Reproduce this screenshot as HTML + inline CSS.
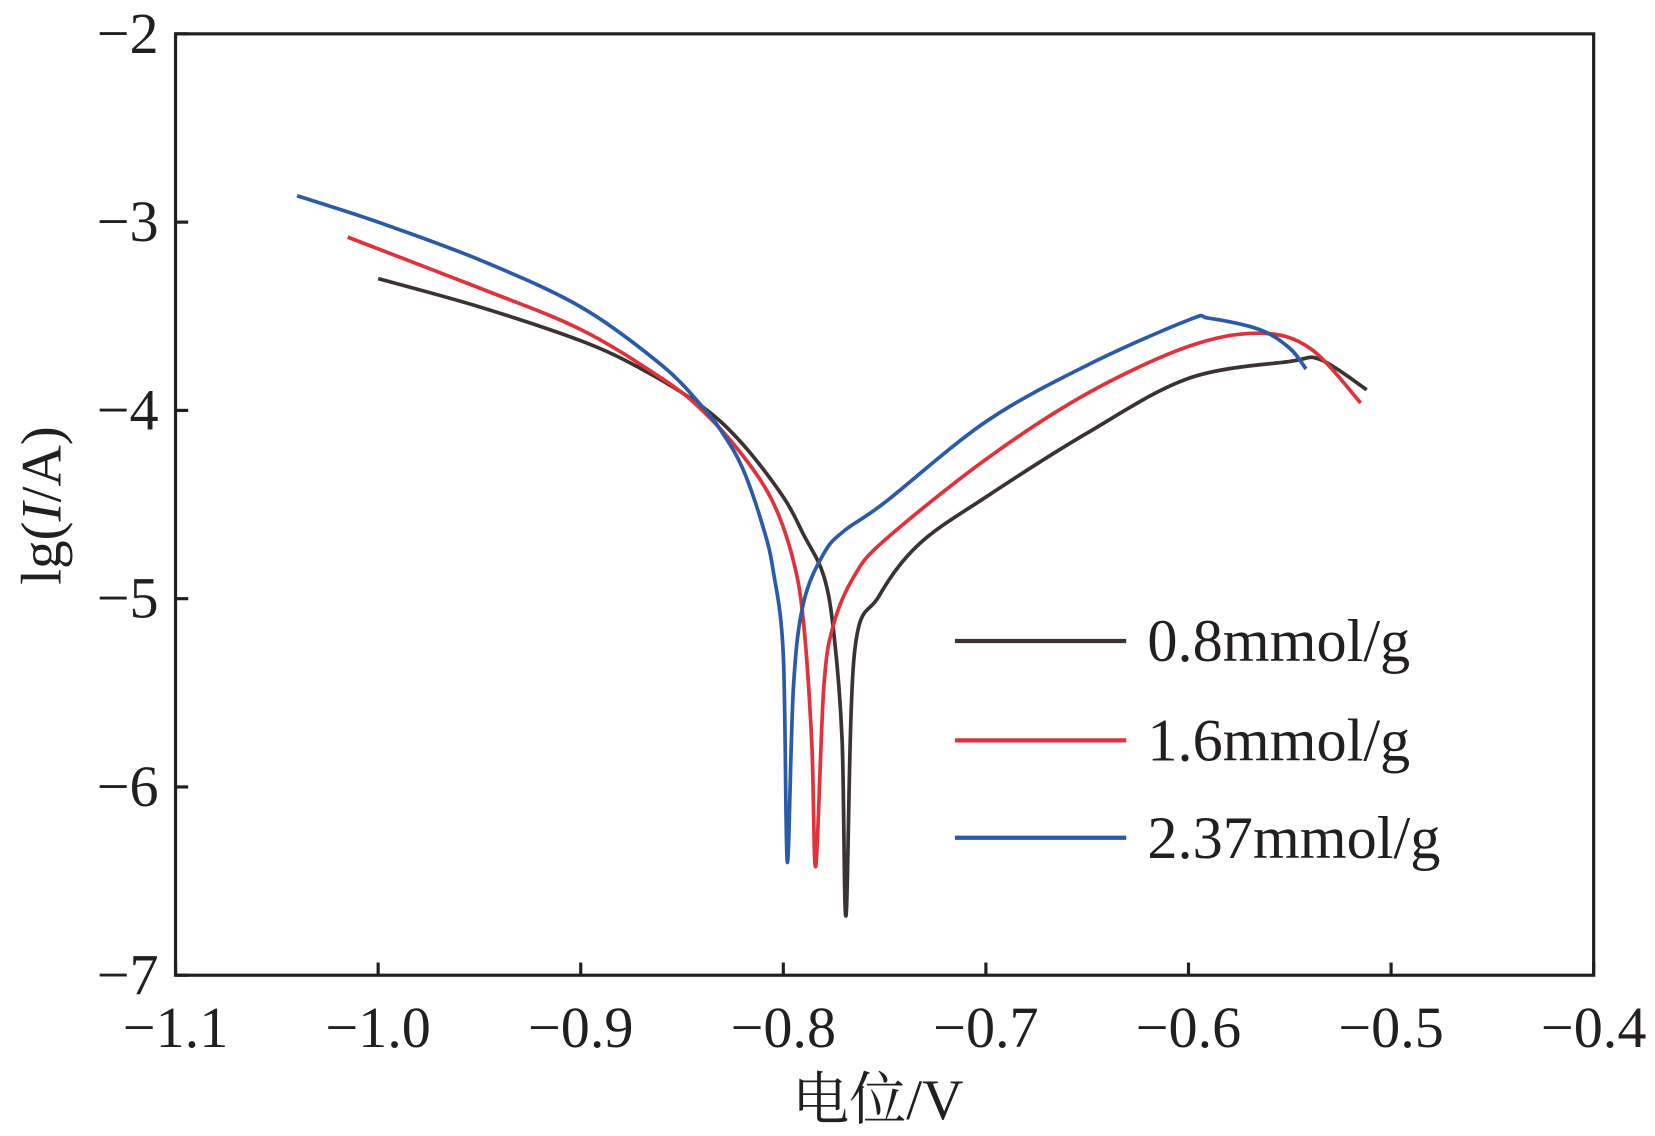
<!DOCTYPE html>
<html><head><meta charset="utf-8"><style>
html,body{margin:0;padding:0;background:#fff;}
svg{display:block;}
text{font-family:"Liberation Serif","Noto Serif CJK SC",serif;fill:#231f20;}
</style></head><body>
<svg id="chart" width="1655" height="1136" viewBox="0 0 1565 1074" preserveAspectRatio="none" xmlns="http://www.w3.org/2000/svg">
<g id="axes"></g>
<g id="series"></g>
<g id="legend"></g>
</svg>
<script>
const xTicks = [-1.1, -1.0, -0.9, -0.8, -0.7, -0.6, -0.5, -0.4];
const xTickLabels = ["\u22121.1","\u22121.0","\u22120.9","\u22120.8","\u22120.7","\u22120.6","\u22120.5","\u22120.4"];
const yTicks = [-2, -3, -4, -5, -6, -7];
const yTickLabels = ["\u22122","\u22123","\u22124","\u22125","\u22126","\u22127"];
const seriesNames = ["0.8mmol/g","1.6mmol/g","2.37mmol/g"];
const seriesColors = ["#3a3331","#e0323a","#2a5aa8"];
const blackX = [-1.0,-0.95,-0.9,-0.87,-0.84,-0.82,-0.8,-0.79,-0.78,-0.775,-0.771,-0.769,-0.765,-0.753,-0.733,-0.7,-0.65,-0.6,-0.55,-0.535,-0.512];
const blackY = [-3.30,-3.45,-3.63,-3.78,-3.98,-4.18,-4.46,-4.66,-4.88,-5.19,-5.75,-6.68,-5.30,-4.99,-4.71,-4.46,-4.12,-3.83,-3.74,-3.73,-3.89];
const redX = [-1.015,-0.95,-0.9,-0.86,-0.84,-0.82,-0.805,-0.795,-0.79,-0.786,-0.784,-0.78,-0.775,-0.765,-0.75,-0.7,-0.65,-0.6,-0.565,-0.54,-0.515];
const redY = [-3.08,-3.35,-3.57,-3.83,-4.0,-4.24,-4.49,-4.80,-5.13,-5.75,-6.42,-5.47,-5.13,-4.88,-4.69,-4.26,-3.91,-3.66,-3.59,-3.67,-3.96];
const blueX = [-1.04,-1.0,-0.95,-0.9,-0.86,-0.84,-0.83,-0.82,-0.81,-0.805,-0.8,-0.798,-0.795,-0.79,-0.78,-0.77,-0.75,-0.7,-0.65,-0.6,-0.59,-0.565,-0.55,-0.542];
const blueY = [-2.86,-3.0,-3.20,-3.45,-3.76,-3.98,-4.12,-4.31,-4.62,-4.85,-5.30,-6.40,-5.47,-5.02,-4.76,-4.64,-4.49,-4.06,-3.76,-3.52,-3.51,-3.57,-3.67,-3.78];

const NS="http://www.w3.org/2000/svg";
const L=166,R=1507,T=32,B=922;
const xS=v=>L+(v+1.1)/0.7*(R-L);
const yS=v=>T+(-2-v)/5*(B-T);
function mk(tag,attrs,parent){const e=document.createElementNS(NS,tag);for(const k in attrs)e.setAttribute(k,attrs[k]);parent.appendChild(e);return e;}
function smooth(pts){
  let d='M'+pts[0][0].toFixed(1)+','+pts[0][1].toFixed(1);
  for(let i=0;i<pts.length-1;i++){
    const p0=pts[Math.max(0,i-1)],p1=pts[i],p2=pts[i+1],p3=pts[Math.min(pts.length-1,i+2)];
    const k=1/6;
    const c1=[p1[0]+(p2[0]-p0[0])*k,p1[1]+(p2[1]-p0[1])*k];
    const c2=[p2[0]-(p3[0]-p1[0])*k,p2[1]-(p3[1]-p1[1])*k];
    d+=' C'+c1[0].toFixed(1)+','+c1[1].toFixed(1)+' '+c2[0].toFixed(1)+','+c2[1].toFixed(1)+' '+p2[0].toFixed(1)+','+p2[1].toFixed(1);
  }
  return d;
}
const axes=document.getElementById('axes');
const frame=mk('rect',{x:L,y:T,width:R-L,height:B-T,fill:'none',stroke:'#231f20','stroke-width':3},axes);


xTicks.forEach((v,i)=>{
  const t=mk('line',{x1:xS(v),x2:xS(v),y1:B,y2:B-12,stroke:'#231f20','stroke-width':3},axes);
  
  
  const lb=mk('text',{x:xS(v),y:990,'font-size':55,'text-anchor':'middle'},axes);
  lb.textContent=xTickLabels[i];
  
  
});
yTicks.forEach((v,i)=>{
  const t=mk('line',{x1:L,x2:L+12,y1:yS(v),y2:yS(v),stroke:'#231f20','stroke-width':3},axes);
  
  
  const lb=mk('text',{x:150,y:yS(v)+18,'font-size':55,'text-anchor':'end'},axes);
  lb.textContent=yTickLabels[i];
  
  
});
const xt=mk('text',{x:830,y:1058,'font-size':54,'text-anchor':'middle'},axes);
xt.textContent='电位/V';


const yt=mk('text',{x:0,y:0,'font-size':54,'text-anchor':'middle',transform:'translate(57,478) rotate(-90)'},axes);
yt.innerHTML='lg(<tspan font-style="italic">I</tspan>/A)';



const ser=document.getElementById('series');
[[blackX,blackY],[redX,redY],[blueX,blueY]].forEach((s,i)=>{
  const pts=s[0].map((x,j)=>[xS(x),yS(s[1][j])]);
  const p=mk('path',{d:smooth(pts),fill:'none',stroke:seriesColors[i],'stroke-width':3.5,'stroke-linejoin':'round'},ser);
  
  
});
const leg=document.getElementById('legend');
const legY=[606,700,792];
seriesNames.forEach((n,i)=>{
  const l=mk('line',{x1:903,x2:1065,y1:legY[i],y2:legY[i],stroke:seriesColors[i],'stroke-width':4},leg);
  
  
  const t=mk('text',{x:1085,y:legY[i]+19,'font-size':57},leg);
  t.textContent=n;
  
  
});
</script>
</body></html>
